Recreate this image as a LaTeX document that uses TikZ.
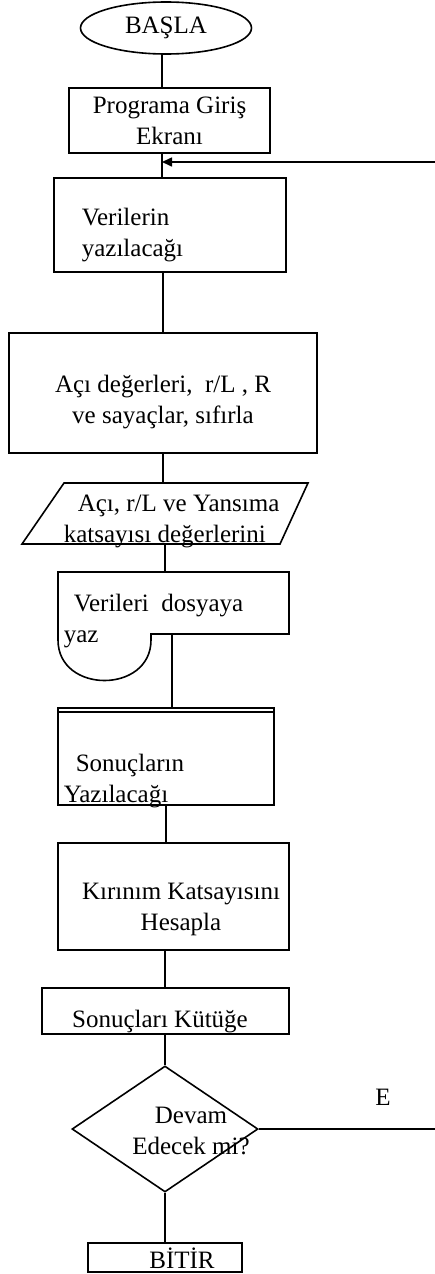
\documentclass[tikz,border=0pt]{standalone}
\usepackage{fontspec}
\setmainfont{Liberation Serif}
\usetikzlibrary{shapes.geometric,arrows.meta}

\begin{document}
\begin{tikzpicture}[x=1pt,y=-1pt,line width=1.6pt,
  font=\fontsize{25}{31}\selectfont,
  kutu/.style={draw,rectangle,inner sep=0pt}]
\useasboundingbox (0,0) rectangle (434,1274);

\node[draw,ellipse,minimum width=171pt,minimum height=52pt,inner sep=0pt] (basla) at (166,28) {BAŞLA};
\node[kutu,minimum width=201pt,minimum height=65pt,align=center] (giris) at (169.5,120.5) {Programa Giriş\\Ekranı};
\coordinate (donus) at (162,162);
\node[kutu,minimum width=232pt,minimum height=94pt] (veri) at (170,225) {};
\node[anchor=west,align=left,inner sep=0pt] (veriyazi) at (81,235) {Verilerin\\yazılacağı};
\node[kutu,minimum width=308pt,minimum height=120pt] (aci) at (163,393) {};
\node[align=center,inner sep=0pt] (aciyazi) at (163,402) {Açı değerleri,~~r/L , R\\ve sayaçlar, sıfırla};

% giris/cikis
\draw (64,483) -- (308,483) -- (280,544) -- (22,544) -- cycle;
\coordinate (iou) at (163,483);
\coordinate (ioa) at (165,544);
\node[anchor=west,align=left,inner sep=0pt] (ioyazi) at (63,521) {\hspace*{14pt}Açı, r/L ve Yansıma\\katsayısı değerlerini};

% dosya
\draw (58,572) -- (289,572) -- (289,634) -- (151,634) -- (151,640)
  .. controls (151,694) and (58,694) .. (58,640) -- cycle;
\coordinate (dosyau) at (165,572);
\coordinate (dosyaa) at (172,634);
\node[anchor=west,align=left,inner sep=0pt] (dosyayazi) at (63,621) {\hspace*{10pt}Verileri~~dosyaya\\yaz};

\node[kutu,minimum width=216pt,minimum height=97pt] (sonuc) at (166,756.5) {};
\draw ([yshift=-5pt]sonuc.north west) -- ([yshift=-5pt]sonuc.north east);
\node[anchor=west,align=left,inner sep=0pt] (sonucyazi) at (63,781) {\hspace*{12pt}Sonuçların\\Yazılacağı};

\node[kutu,minimum width=231pt,minimum height=107pt] (kirinim) at (173.5,896.5) {};
\node[align=center,inner sep=0pt] (kirinimyazi) at (181,909) {Kırınım Katsayısını\\Hesapla};

\node[kutu,minimum width=247pt,minimum height=46pt] (kutuk) at (165.5,1011) {};
\node[anchor=base,inner sep=0pt] (kutukyazi) at (160,1027) {Sonuçları Kütüğe};

\node[draw,diamond,minimum width=186pt,minimum height=126pt,inner sep=0pt] (karar) at (165,1129) {};
\node[align=center,inner sep=0pt] (kararyazi) at (191,1131) {Devam\\Edecek mi?};
\node[anchor=base,inner sep=0pt] (evet) at (383,1105) {E};

\node[kutu,minimum width=154pt,minimum height=29pt] (bitir) at (165,1257.5) {};
\node[anchor=base,inner sep=0pt] (bitiryazi) at (182,1268) {BİTİR};

\coordinate (sagalt) at (436,1129);
\coordinate (sagust) at (436,162);

\draw (basla.south -| donus) -- (giris.north -| donus);
\draw (giris.south -| donus) -- (veri.north -| donus);
\draw (veri.south -| aci) -- (aci.north);
\draw (aci.south) -- (iou);
\draw (ioa) -- (dosyau);
\draw (dosyaa) -- (dosyaa |- sonuc.north);
\draw (sonuc.south) -- (sonuc.south |- kirinim.north);
\draw (kirinim.south -| karar) -- (kutuk.north -| karar);
\draw (kutuk.south -| karar) -- (karar.north);
\draw (karar.south) -- (bitir.north);
\draw[-{Triangle[length=10pt,width=9pt]}] (karar.east) -- (sagalt) -- (sagust) -- (donus);
\end{tikzpicture}
\end{document}
